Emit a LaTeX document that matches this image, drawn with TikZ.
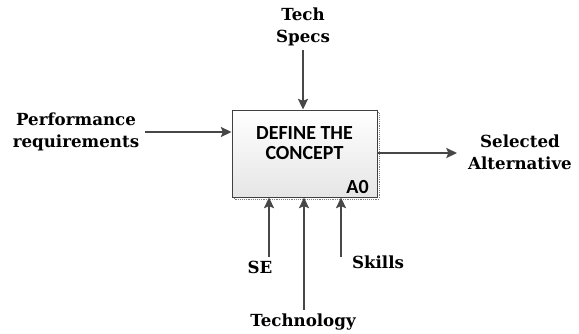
\documentclass[tikz,border=0pt]{standalone}
\usepackage{fontspec}
\setmainfont{DejaVu Serif}
\newfontfamily\boxfont{Carlito}
\usetikzlibrary{arrows.meta,shadows}
\begin{document}
\begin{tikzpicture}[x=0.75pt,y=-0.75pt,
  lbl/.style={font=\bfseries\fontsize{12.5}{16.5}\selectfont, align=center, text=black, inner sep=0pt},
  arr/.style={draw=black!72, line width=1.4pt, -{Stealth[length=8pt,width=7.5pt,inset=1.5pt]}},
  proc/.style={draw=black!75, line width=0.7pt, top color=white, bottom color=black!10,
     minimum width=145*0.75pt, minimum height=87*0.75pt, inner sep=0pt}]
\useasboundingbox (0,0) rectangle (579,333);
% shadow
\draw[black!50, densely dotted, line width=0.4pt] (234,199) rectangle (379,112);
\node[proc] (box) at (304.5,153.5) {};
\node[font=\boxfont\bfseries\fontsize{15}{15}\selectfont, align=center] (t) at (304.5,143) {DEFINE THE\\CONCEPT};
\node[font=\boxfont\bfseries\fontsize{15}{15}\selectfont, anchor=base east, inner sep=0pt] (a0) at (369,193) {A0};
% labels
\node[lbl] (spec) at (303,27) {Tech\\Specs};
\node[lbl] (perf) at (76,132) {Performance\\requirements};
\node[lbl] (sel) at (520,152) {Selected\\Alternative};
\node[lbl] (se) at (260,267) {SE};
\node[lbl] (sk) at (378,262) {Skills};
\node[lbl] (tech) at (303,322) {Technology};
% coordinates
\coordinate (c1) at (303,50);
\coordinate (c2) at (145,132);
\coordinate (c3) at (457,153);
\coordinate (c4) at (269,257);
\coordinate (c5) at (304,310);
\coordinate (c6) at (341,257);
\draw[arr] (c1) -- (c1 |- box.north);
\draw[arr] (c2) -- (c2 -| box.west);
\draw[arr] (box.east |- c3) -- (c3);
\draw[arr] (c4) -- (c4 |- box.south);
\draw[arr] (c5) -- (c5 |- box.south);
\draw[arr] (c6) -- (c6 |- box.south);
\end{tikzpicture}
\end{document}
